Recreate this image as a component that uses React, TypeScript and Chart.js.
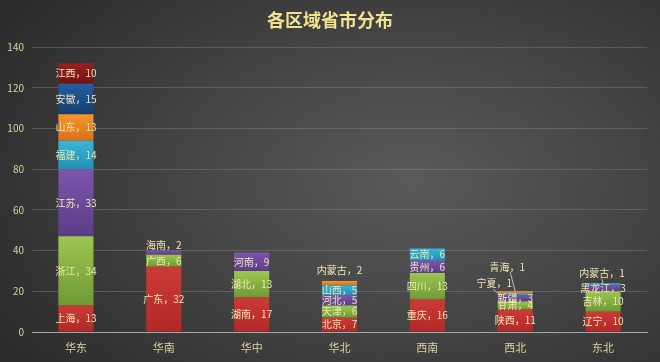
import React, { useEffect, useRef } from "react";
import { Chart, registerables } from "chart.js";

Chart.register(...registerables);

const categories = ["华东", "华南", "华中", "华北", "西南", "西北", "东北"];
const yTicks = [0, 20, 40, 60, 80, 100, 120, 140];

const s1Names = ["上海", "广东", "湖南", "北京", "重庆", "陕西", "辽宁"];
const s1Values = [13, 32, 17, 7, 16, 11, 10];
const s2Names = ["浙江", "广西", "湖北", "天津", "四川", "甘肃", "吉林"];
const s2Values = [34, 6, 13, 6, 13, 4, 10];
const s3Names = ["江苏", "海南", "河南", "河北", "贵州", "新疆", "黑龙江"];
const s3Values = [33, 2, 9, 5, 6, 3, 3];
const s4Names = ["福建", "", "", "山西", "云南", "宁夏", "内蒙古"];
const s4Values = [14, null, null, 5, 6, 1, 1];
const s5Names = ["山东", "", "", "内蒙古", "", "青海", ""];
const s5Values = [13, null, null, 2, null, 1, null];
const s6Names = ["安徽", "", "", "", "", "", ""];
const s6Values = [15, null, null, null, null, null, null];
const s7Names = ["江西", "", "", "", "", "", ""];
const s7Values = [10, null, null, null, null, null, null];

const seriesNames = [s1Names, s2Names, s3Names, s4Names, s5Names, s6Names, s7Names];
const seriesValues = [s1Values, s2Values, s3Values, s4Values, s5Values, s6Values, s7Values];
const seriesColors = [
  ["#cc3a36", "#b02a28"],
  ["#9cc650", "#6f9a34"],
  ["#7d56aa", "#5c3c88"],
  ["#38b6d8", "#2290b4"],
  ["#f6952e", "#d8701a"],
  ["#235ea0", "#173f70"],
  ["#9a2020", "#701414"],
];

// label callouts: key "dataset-index" -> offset of label from segment centre, leader end offset
const callouts: Record<string, { dx: number; dy: number; line?: [number, number, number, number] }> = {
  "2-1": { dx: 0, dy: -7 },
  "4-3": { dx: 0, dy: -13 },
  "4-5": { dx: -8, dy: -25, line: [3, 5, 0, -1] },
  "3-5": { dx: -21, dy: -11, line: [-1, 6, -16, 0] },
  "3-6": { dx: -1, dy: -11, line: [0, 6, 0, -1] },
};

const labelPlugin = {
  id: "segLabels",
  beforeDatasetsDraw(chart: any) {
    const ctx = chart.ctx;
    chart.data.datasets.forEach((ds: any, i: number) => {
      const meta = chart.getDatasetMeta(i);
      meta.data.forEach((el: any) => {
        if (!el || el.y == null || isNaN(el.y)) return;
        const top = Math.min(el.y, el.base);
        const bot = Math.max(el.y, el.base);
        if (bot - top < 0.5) return;
        const g = ctx.createLinearGradient(0, top, 0, bot);
        g.addColorStop(0, seriesColors[i][0]);
        g.addColorStop(1, seriesColors[i][1]);
        el.options.backgroundColor = g;
      });
    });
  },
  afterDatasetsDraw(chart: any) {
    const ctx = chart.ctx;
    ctx.save();
    ctx.font = "10px 'Noto Sans CJK SC', sans-serif";
    ctx.textAlign = "center";
    ctx.textBaseline = "middle";
    chart.data.datasets.forEach((ds: any, i: number) => {
      const meta = chart.getDatasetMeta(i);
      meta.data.forEach((el: any, j: number) => {
        const v = seriesValues[i][j];
        if (v == null) return;
        const cx = el.x;
        const cy = (el.y + el.base) / 2;
        const c = callouts[`${i}-${j}`];
        let lx = cx, ly = cy;
        if (c) {
          lx = cx + c.dx;
          ly = cy + c.dy;
          if (c.line) {
            ctx.strokeStyle = "rgba(220,220,220,0.8)";
            ctx.lineWidth = 1;
            ctx.beginPath();
            ctx.moveTo(lx + c.line[0], ly + c.line[1]);
            ctx.lineTo(cx + c.line[2], cy + c.line[3]);
            ctx.stroke();
          }
        }
        ctx.fillStyle = "#efe6b4";
        ctx.fillText(`${seriesNames[i][j]}，${v}`, lx, ly);
      });
    });
    ctx.restore();
  },
};

const titlePlugin = {
  id: "titleDraw",
  afterDraw(chart: any) {
    const ctx = chart.ctx;
    ctx.save();
    ctx.font = "bold 18px 'Noto Sans CJK SC', sans-serif";
    ctx.fillStyle = "#f0e28e";
    ctx.textAlign = "center";
    ctx.textBaseline = "middle";
    ctx.fillText("各区域省市分布", 330, 20);
    ctx.restore();
  },
};

export default function App() {
  const ref = useRef<HTMLCanvasElement>(null);
  useEffect(() => {
    document.body.style.margin = "0";
    const chart = new Chart(ref.current!, {
      type: "bar",
      data: {
        labels: categories,
        datasets: seriesValues.map((vals, i) => ({
          label: `s${i + 1}`,
          data: vals,
          backgroundColor: () => seriesColors[i][0],
          borderWidth: 0,
          barPercentage: 0.4,
          categoryPercentage: 1,
        })),
      },
      options: {
        animation: false,
        responsive: false,
        layout: { padding: { top: 47, right: 13, left: 0, bottom: 0 } },
        plugins: { legend: { display: false }, tooltip: { enabled: false }, title: { display: false } },
        scales: {
          x: {
            stacked: true,
            grid: { display: false, drawTicks: false },
            border: { display: true, color: "#a8a8a8", width: 1 },
            ticks: { color: "#dcd29e", font: { size: 11, family: "'Noto Sans CJK SC', sans-serif" }, padding: 9 },
            afterFit: (s: any) => { s.height = 30; },
          },
          y: {
            stacked: true,
            min: 0,
            max: 140,
            afterBuildTicks: (s: any) => { s.ticks = yTicks.map((v) => ({ value: v })); },
            grid: { color: "rgba(150,150,150,0.35)", drawTicks: false },
            border: { display: false },
            ticks: { color: "#dcd29e", font: { size: 10, family: "'Noto Sans CJK SC', sans-serif" }, padding: 8 },
            afterFit: (s: any) => { s.width = 32; },
          },
        },
      },
      plugins: [labelPlugin, titlePlugin],
    });
    return () => chart.destroy();
  }, []);
  return (
    <div
      style={{
        position: "fixed",
        left: 0,
        top: 0,
        width: 660,
        height: 362,
        background: "radial-gradient(ellipse 75% 85% at 62% 50%, #5a5a5a 0%, #454545 45%, #2a2a2a 100%)",
      }}
    >
      <canvas ref={ref} width={660} height={362} style={{ display: "block", width: 660, height: 362 }} />
    </div>
  );
}
